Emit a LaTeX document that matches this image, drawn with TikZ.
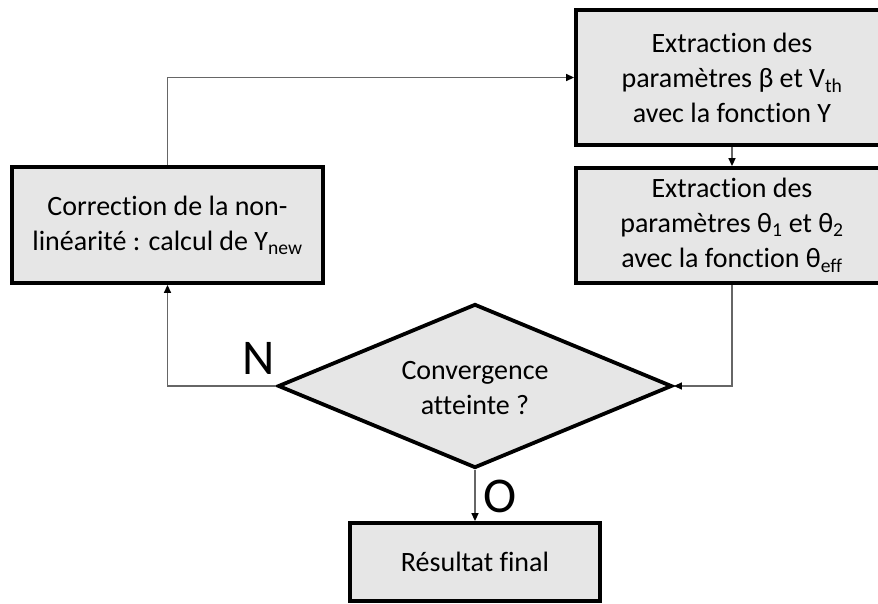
\documentclass[tikz,border=0pt]{standalone}
\usepackage{fontspec}
\setmainfont{Carlito}[Ligatures={NoCommon}]
\usetikzlibrary{shapes.geometric,arrows.meta}
\definecolor{boxfill}{HTML}{E6E6E6}
\definecolor{linecol}{HTML}{666666}
\begin{document}
\begin{tikzpicture}[x=1pt,y=-1pt,
  box/.style={draw=black,line width=3.8pt,fill=boxfill,align=center,
    font=\fontsize{28}{35}\selectfont,inner sep=0pt},
  decision/.style={draw=black,line width=3.8pt,fill=boxfill,shape=diamond,inner sep=0pt},
  plain/.style={align=center,font=\fontsize{28}{35}\selectfont,inner sep=0pt},
  conn/.style={draw=linecol,line width=1.4pt,-{Triangle[length=8pt,width=7pt,color=black]}},
  big/.style={font=\fontsize{50}{60}\selectfont,inner sep=0pt}]
\useasboundingbox (0,0) rectangle (878,604);
\fill[white] (0,0) rectangle (878,604);

\node[box,minimum width=312pt,minimum height=135pt] (ex1) at (732,77.5)
  {Extraction des\\paramètres β et V\textsubscript{th}\\avec la fonction Y};
\node[box,minimum width=312pt,minimum height=115pt] (ex2) at (732,225.5)
  {Extraction des\\paramètres θ\textsubscript{1} et θ\textsubscript{2}\\avec la fonction θ\textsubscript{eff}};
\node[box,minimum width=311pt,minimum height=116pt] (corr) at (167.5,225)
  {Correction de la non-\\linéarité : calcul de Y\textsubscript{new}};
\node[decision,minimum width=394pt,minimum height=164pt] (dia) at (475,386) {};
\node[plain] (diatext) at (475,388) {Convergence\\atteinte ?};
\node[box,minimum width=250pt,minimum height=78pt] (res) at (475,562) {Résultat final};

\draw[conn] (corr.north) |- (ex1.west);
\draw[conn] (ex1.south) -- (ex2.north);
\draw[conn] (ex2.south) |- (dia.east);
\draw[conn] (dia.west) -| (corr.south);
\draw[conn] (dia.south) -- (res.north);

\node[big] (lblN) at (259,358) {N};
\node[big] (lblO) at (500,496) {O};
\end{tikzpicture}
\end{document}
